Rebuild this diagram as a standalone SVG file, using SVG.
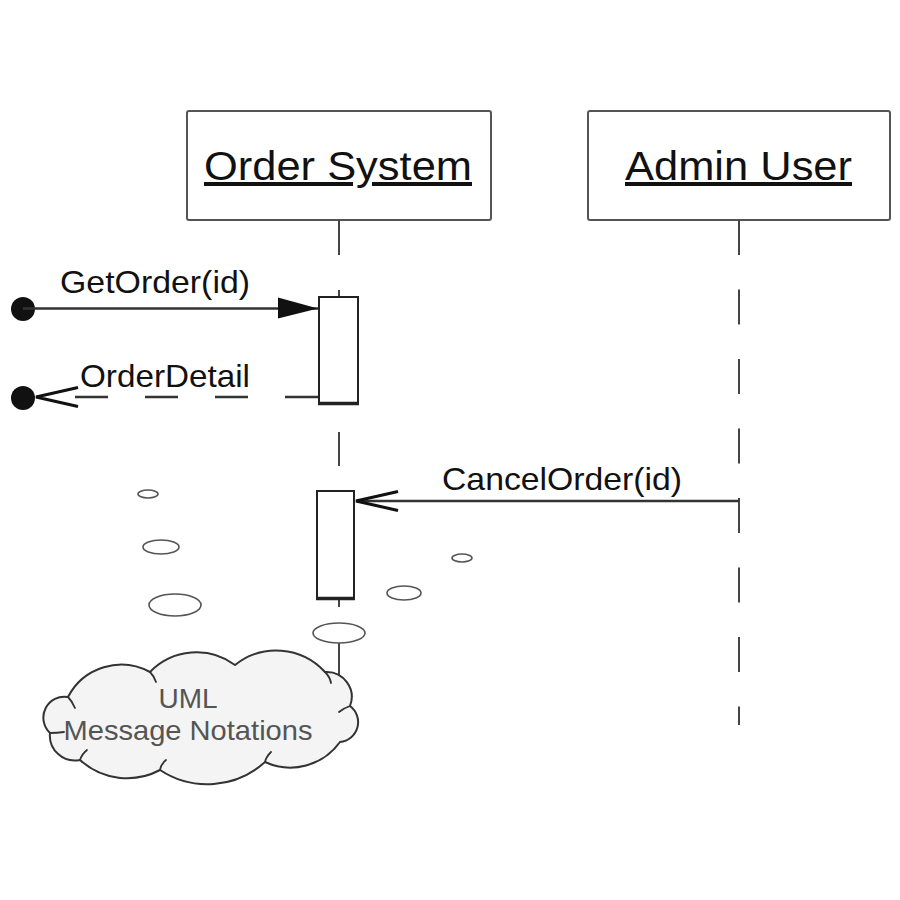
<svg xmlns="http://www.w3.org/2000/svg" width="900" height="900" viewBox="0 0 900 900">
  <style>
    .box { fill: #ffffff; stroke: #555555; stroke-width: 2; }
    .title { font-family: "Liberation Sans", Arial, sans-serif; font-size: 40px; fill: #111111; text-decoration: underline; }
    .life { stroke: #444444; stroke-width: 2; fill: none; }
    .act { fill: #ffffff; stroke: #222222; stroke-width: 2; }
    .actbase { stroke: #222222; stroke-width: 3.5; }
    .msg { stroke: #333333; stroke-width: 2.5; fill: none; }
    .label { font-family: "Liberation Sans", Arial, sans-serif; font-size: 32px; fill: #111111; }
    .dot { fill: #111111; }
    .bubble { fill: #ffffff; stroke: #555555; stroke-width: 1.6; }
    .cloud { fill: #f4f4f4; stroke: #333333; stroke-width: 2; stroke-linejoin: round; }
    .cloudline { fill: none; stroke: #333333; stroke-width: 1.8; stroke-linecap: round; }
    .cloudtext { font-family: "Liberation Sans", Arial, sans-serif; font-size: 28px; fill: #555555; text-anchor: middle; }
  </style>
  <defs>
    <marker id="filled" markerUnits="userSpaceOnUse" viewBox="-42 -12 44 24" refX="0" refY="0" markerWidth="44" markerHeight="24" orient="auto">
      <path d="M-40,-11 L0,0 L-40,10 Z" fill="#111111" stroke="none"/>
    </marker>
    <marker id="open" markerUnits="userSpaceOnUse" viewBox="-46 -13 50 26" refX="0" refY="0" markerWidth="50" markerHeight="26" orient="auto">
      <path d="M-42,-9.5 L0,0 L-42,9.5" fill="none" stroke="#111111" stroke-width="3" stroke-dasharray="none"/>
    </marker>
  </defs>

  <rect width="900" height="900" fill="#ffffff"/>

  <g id="order-system">
    <rect class="box" x="187" y="111" width="304" height="109" rx="2"/>
    <text class="title" x="204" y="180" textLength="268" lengthAdjust="spacingAndGlyphs">Order System</text>
    <path class="life" d="M339,220 V255 M339,290 V297 M339,432 V466 M339,599 V607 M339,643 V676"/>
    <rect class="act" x="319" y="297" width="39" height="107"/>
    <line class="actbase" x1="318" y1="403.5" x2="359" y2="403.5"/>
    <rect class="act" x="317" y="491" width="37" height="108"/>
    <line class="actbase" x1="316" y1="598.5" x2="355" y2="598.5"/>
  </g>

  <g id="admin-user">
    <rect class="box" x="588" y="111" width="302" height="109" rx="2"/>
    <text class="title" x="625" y="180" textLength="227" lengthAdjust="spacingAndGlyphs">Admin User</text>
    <line class="life" x1="739" y1="220" x2="739" y2="725" stroke-dasharray="35 34.5"/>
  </g>

  <g id="connectors">
    <g id="msg-getorder">
      <circle class="dot" cx="23" cy="309" r="12"/>
      <line class="msg" x1="23" y1="308.5" x2="318" y2="308.5" marker-end="url(#filled)"/>
      <text class="label" x="60" y="293" textLength="190" lengthAdjust="spacingAndGlyphs">GetOrder(id)</text>
    </g>
    <g id="msg-orderdetail">
      <circle class="dot" cx="23" cy="398" r="12"/>
      <line class="msg" x1="318" y1="397" x2="36" y2="397" stroke-dasharray="33 37" marker-end="url(#open)"/>
      <text class="label" x="80" y="387" textLength="170" lengthAdjust="spacingAndGlyphs">OrderDetail</text>
    </g>
    <g id="msg-cancelorder">
      <line class="msg" x1="739" y1="501" x2="356" y2="501" stroke-width="2" marker-end="url(#open)"/>
      <text class="label" x="442" y="490" textLength="240" lengthAdjust="spacingAndGlyphs">CancelOrder(id)</text>
    </g>
  </g>

  <g id="note-cloud">
    <ellipse class="bubble" cx="148" cy="494" rx="10" ry="4"/>
    <ellipse class="bubble" cx="161" cy="547" rx="18" ry="7"/>
    <ellipse class="bubble" cx="175" cy="605" rx="26" ry="11"/>
    <ellipse class="bubble" cx="462" cy="558" rx="10" ry="4"/>
    <ellipse class="bubble" cx="404" cy="593" rx="17" ry="7"/>
    <ellipse class="bubble" cx="339" cy="633" rx="26" ry="10"/>
    <path class="cloud" d="M68,697 A60,60 0 0 1 150,672 A65,65 0 0 1 235,665 A66,66 0 0 1 325,672 A25,25 0 0 1 350,706 A20,20 0 0 1 340,742 A61,61 0 0 1 265,762 A86,86 0 0 1 160,770 A70,70 0 0 1 80,760 A25,25 0 0 1 50,733 A21,21 0 0 1 68,697 Z"/>
    <path class="cloudline" d="M68,697 Q72,701 75,708 M150,672 Q154,676 156,682 M325,672 Q330,677 331,683 M350,706 Q344,708 339,712 M50,733 Q57,733 64,732 M160,770 Q161,764 166,760 M265,762 Q266,757 271,752 M80,760 Q82,754 87,750"/>
    <text class="cloudtext" x="188" y="708">UML</text>
    <text class="cloudtext" x="188" y="740" textLength="249" lengthAdjust="spacingAndGlyphs">Message Notations</text>
  </g>
</svg>
